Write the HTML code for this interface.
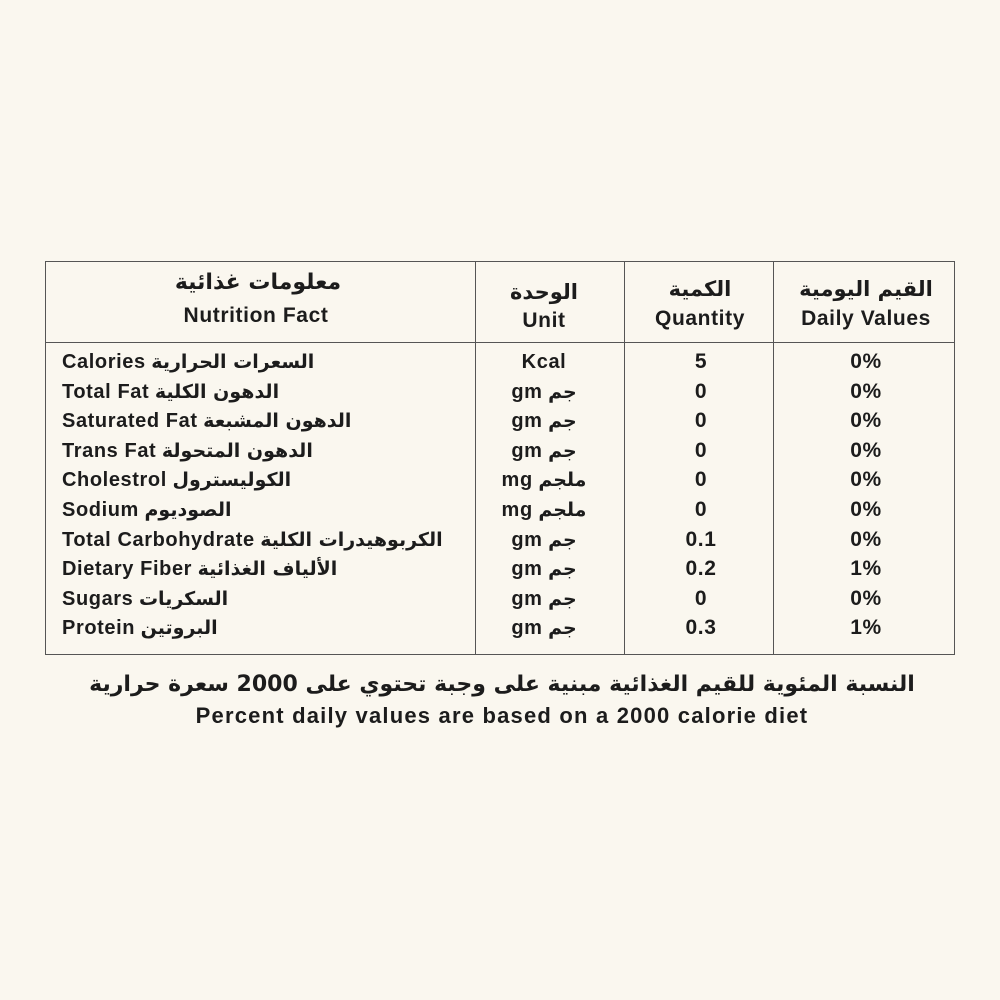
<!DOCTYPE html>
<html><head><meta charset="utf-8"><style>
body{margin:0;width:1000px;height:1000px;background:#faf7ef;font-family:"Liberation Sans","DejaVu Sans",sans-serif;color:#1c1c1c;position:relative;overflow:hidden}
.t{position:absolute;white-space:nowrap;font-size:19px;line-height:22px}
.b{font-weight:bold;letter-spacing:0.6px}
.box{position:absolute;left:45px;top:261px;width:908px;height:392px;border:1.5px solid #555}
.v{position:absolute;top:261px;height:393px;border-left:1.5px solid #555}
.h{position:absolute;left:45px;top:342px;width:909px;border-top:1.5px solid #555}
.c{transform:translateX(-50%)}
.ar{font-family:"DejaVu Sans",sans-serif;font-size:19px;font-weight:bold}
</style></head><body>
<div class="box"></div>
<div class="v" style="left:475px"></div>
<div class="v" style="left:624px"></div>
<div class="v" style="left:773px"></div>
<div class="h"></div>

<div class="t c ar" style="left:258px;top:272px;font-size:22px">معلومات غذائية</div>
<div class="t c b" style="left:256px;top:305px;font-size:21px">Nutrition Fact</div>
<div class="t c ar" style="left:544px;top:281px;font-size:21px">الوحدة</div>
<div class="t c b" style="left:544px;top:310px;font-size:21px">Unit</div>
<div class="t c ar" style="left:700px;top:278px;font-size:21px">الكمية</div>
<div class="t c b" style="left:700px;top:308px;font-size:21px">Quantity</div>
<div class="t c ar" style="left:866px;top:278px;font-size:21px">القيم اليومية</div>
<div class="t c b" style="left:866px;top:308px;font-size:21px">Daily Values</div>

<div id="rows"></div>
<script>
var r=[["Calories","السعرات الحرارية","Kcal","","5","0%"],
["Total Fat","الدهون الكلية","gm","جم","0","0%"],
["Saturated Fat","الدهون المشبعة","gm","جم","0","0%"],
["Trans Fat","الدهون المتحولة","gm","جم","0","0%"],
["Cholestrol","الكوليسترول","mg","ملجم","0","0%"],
["Sodium","الصوديوم","mg","ملجم","0","0%"],
["Total Carbohydrate","الكربوهيدرات الكلية","gm","جم","0.1","0%"],
["Dietary Fiber","الألياف الغذائية","gm","جم","0.2","1%"],
["Sugars","السكريات","gm","جم","0","0%"],
["Protein","البروتين","gm","جم","0.3","1%"]];
var h="";
r.forEach(function(x,i){var y=351+i*29.6;
h+='<div class="t" style="left:62px;top:'+y+'px;font-size:20px"><span class="b">'+x[0]+'</span> <span class="ar" dir="rtl">'+x[1]+'</span></div>';
h+='<div class="t c" style="left:544px;top:'+y+'px;font-size:20px"><span class="b">'+x[2]+'</span>'+(x[3]?' <span class="ar" dir="rtl">'+x[3]+'</span>':'')+'</div>';
h+='<div class="t c b" style="left:701px;top:'+y+'px;font-size:21px">'+x[4]+'</div>';
h+='<div class="t c b" style="left:866px;top:'+y+'px;font-size:21px">'+x[5]+'</div>';});
document.getElementById("rows").innerHTML=h;
</script>
<div class="t c ar" dir="rtl" style="left:502px;top:674px;font-size:22px">النسبة المئوية للقيم الغذائية مبنية على وجبة تحتوي على 2000 سعرة حرارية</div>
<div class="t c b" style="left:502px;top:705px;font-size:22px;letter-spacing:1.2px">Percent daily values are based on a 2000 calorie diet</div>
</body></html>
